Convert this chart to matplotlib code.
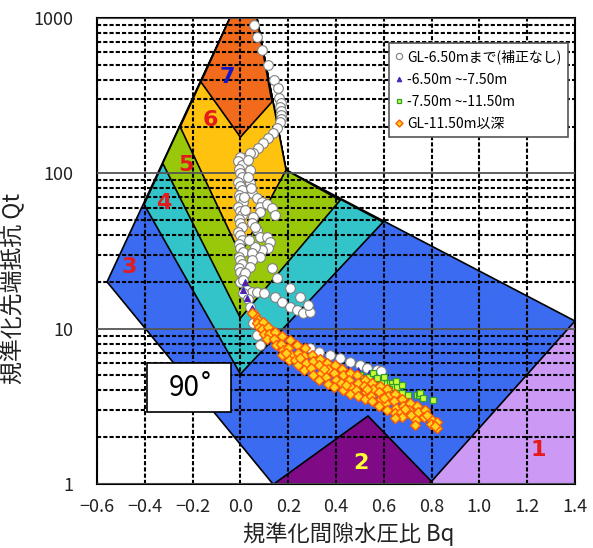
import matplotlib
matplotlib.use("Agg")
import matplotlib.pyplot as plt
from matplotlib.patches import Polygon, Rectangle
from matplotlib.ticker import NullFormatter

plt.rcParams["font.family"] = ["Noto Sans CJK JP", "DejaVu Sans"]

# --- soil behaviour type zones (Bq, Qt), painted from the outside in ---
zone3 = [(-0.558, 20), (-0.0435, 1000), (0.069, 1000), (0.191, 105), (1.4, 11.2), (1.4, 1), (0.136, 1)]
zone4 = [(-0.403, 63), (-0.0435, 1000), (0.069, 1000), (0.191, 105), (0.597, 48.5), (0.0, 5.1)]
zone5 = [(-0.325, 116), (-0.0435, 1000), (0.069, 1000), (0.191, 105), (0.417, 67), (0.0, 11.7)]
zone6 = [(-0.252, 199), (-0.0435, 1000), (0.069, 1000), (0.191, 105), (0.0, 30)]
zone7 = [(-0.165, 387), (-0.0435, 1000), (0.069, 1000), (0.132, 288), (0.0, 171)]
zone2 = [(0.14, 1), (0.534, 2.74), (0.81, 1)]
zone1 = [(0.79, 1), (1.4, 11.2), (1.4, 1)]
zone_colors = {"3": "#3A6BF0", "4": "#33C4C9", "5": "#99C80A", "6": "#FFC20E",
               "7": "#F26A1B", "2": "#7F0A86", "1": "#CC99F5"}

zone_names = ["1", "2", "3", "4", "5", "6", "7"]
zone_label_bq = [1.245, 0.505, -0.466, -0.32, -0.228, -0.127, -0.055]
zone_label_qt = [1.65, 1.36, 25, 64, 113, 220, 417]
zone_label_colors = ["#E41A1C", "#FFFF33", "#E41A1C", "#E41A1C", "#E41A1C", "#E41A1C", "#1515C8"]

# --- measured points ---
white_bq = [0.057, 0.069, 0.09, 0.115, 0.141, 0.157, 0.162, 0.168, 0.166, 0.17, 0.17, 0.168, 0.166,
            0.153, 0.136, 0.115, 0.095, 0.074, 0.053, 0.028,
            0.0, -0.01, 0.005, -0.005, 0.0, 0.008, -0.008, 0.0, 0.005, -0.005, 0.0, 0.01, -0.01,
            0.0, 0.005, -0.005, 0.0, 0.008, -0.008, 0.0, 0.005, -0.005, 0.0, 0.01, -0.005,
            0.0, 0.005, -0.005, 0.0, 0.01, 0.0,
            0.04, 0.032, 0.04, 0.04, 0.048, 0.069, 0.09, 0.082, 0.11, 0.132, 0.145, 0.082, 0.053,
            0.048, 0.069, 0.082, 0.11, 0.124, 0.115, 0.09, 0.06, 0.048, 0.082, 0.048, 0.04, 0.02,
            0.01, 0.027, 0.048, 0.07, 0.1,
            0.132, 0.153, 0.208, 0.25, 0.145, 0.174, 0.208, 0.237, 0.262, 0.29, 0.283,
            0.011, 0.03, 0.04, 0.053, 0.053, 0.069, 0.082,
            0.29, 0.33, 0.375, 0.417, 0.46, 0.50, 0.53, 0.57, 0.59,
            0.03, 0.045, 0.06, 0.035, 0.02, 0.015]
white_qt = [902, 755, 622, 498, 399, 354, 305, 285, 267, 250, 237, 225, 214,
            196, 182, 169, 157, 146, 135, 127,
            127, 120, 113, 106, 100, 94, 88, 83, 78, 73, 69, 65, 61,
            57, 54, 51, 48, 45, 42, 40, 37, 35, 33, 31, 29,
            27.5, 26, 24.5, 23, 21.5, 20,
            135, 122, 105, 87, 75, 69, 65, 61, 63, 60, 54, 56, 52,
            48, 43, 39, 39, 36, 33, 32, 33.5, 30.7, 28.9, 27.7, 25, 22.8,
            20.6, 17.7, 17.2, 17.2, 17,
            24.5, 21.2, 18.2, 16, 16, 14.8, 13.8, 13.2, 12.6, 12.8, 14.2,
            17, 15.5, 13.8, 12.6, 10.9, 9.1, 7.8,
            7.5, 7.1, 6.8, 6.5, 6.1, 5.8, 5.6, 5.4, 5.3,
            95, 80, 45, 37, 58, 70]

tri_bq = [0.02, 0.011, 0.028, 0.048, 0.069, 0.095, 0.24, 0.33, 0.396, 0.45, 0.49, 0.54]
tri_qt = [20, 17.7, 15.7, 13.6, 11.4, 10.2, 7.6, 6.3, 5.8, 5.5, 5.4, 5.2]

green_bq = [0.50, 0.54, 0.555, 0.584, 0.59, 0.613, 0.626, 0.634, 0.638, 0.655, 0.676, 0.66,
            0.676, 0.70, 0.74, 0.748, 0.751, 0.764, 0.806, 0.60, 0.57, 0.65, 0.62]
green_qt = [5.0, 4.87, 5.2, 4.67, 4.53, 4.47, 4.47, 4.47, 4.2, 4.2, 4.34, 3.85,
            3.85, 3.73, 3.73, 3.73, 3.85, 3.57, 3.47, 4.9, 4.8, 4.6, 4.1]

orange_bq = [0.06, 0.05, 0.074, 0.07, 0.078, 0.095, 0.09, 0.1, 0.115, 0.12, 0.11,
             0.145, 0.14, 0.15, 0.174, 0.17, 0.18, 0.172, 0.208, 0.2, 0.212, 0.205,
             0.237, 0.24, 0.23, 0.242, 0.27, 0.265, 0.275, 0.268, 0.30, 0.305, 0.296, 0.302,
             0.333, 0.328, 0.338, 0.33, 0.362, 0.366, 0.357, 0.365, 0.396, 0.39, 0.4, 0.393,
             0.425, 0.43, 0.42, 0.428, 0.459, 0.455, 0.463, 0.457, 0.488, 0.492, 0.484, 0.49,
             0.521, 0.517, 0.525, 0.52, 0.55, 0.555, 0.546, 0.552, 0.584, 0.58, 0.588, 0.582,
             0.613, 0.617, 0.61, 0.615, 0.647, 0.643, 0.65, 0.645, 0.676, 0.68, 0.672, 0.678,
             0.71, 0.706, 0.713, 0.739, 0.742, 0.735, 0.772, 0.768, 0.80, 0.797, 0.823,
             0.73, 0.78, 0.647, 0.823, 0.815,
             0.19, 0.25, 0.35, 0.44, 0.53, 0.6, 0.69]
orange_qt = [12.3, 12.6, 11.4, 10.8, 10.2, 11.0, 10.0, 9.3, 10.2, 9.3, 8.6,
             9.5, 8.6, 7.9, 9.0, 8.0, 7.3, 6.8, 8.4, 7.5, 6.8, 6.3,
             7.9, 7.0, 6.3, 5.8, 7.5, 6.7, 6.0, 5.4, 6.8, 6.2, 5.6, 5.0,
             6.4, 5.8, 5.2, 4.7, 6.0, 5.5, 4.9, 4.4, 5.8, 5.2, 4.7, 4.2,
             5.5, 5.0, 4.5, 4.0, 5.2, 4.7, 4.2, 3.8, 5.0, 4.5, 4.0, 3.7,
             4.7, 4.3, 3.9, 3.5, 4.5, 4.1, 3.7, 3.4, 4.3, 3.9, 3.5, 3.2,
             4.1, 3.7, 3.3, 3.0, 3.8, 3.4, 3.1, 2.85, 3.5, 3.2, 2.9, 2.7,
             3.3, 3.0, 2.8, 3.2, 2.9, 2.6, 3.0, 2.7, 2.6, 2.45, 2.3,
             2.39, 2.78, 2.65, 2.5, 2.35,
             7.0, 6.5, 5.5, 4.35, 4.1, 3.6, 3.05]

series_labels = ["GL-6.50mまで(補正なし)", "-6.50m ~-7.50m", "-7.50m ~-11.50m", "GL-11.50m以深"]

x_ticks = [-0.6, -0.4, -0.2, 0.0, 0.2, 0.4, 0.6, 0.8, 1.0, 1.2, 1.4]
x_tick_labels = ["\u22120.6", "\u22120.4", "\u22120.2", "0.0", "0.2", "0.4", "0.6", "0.8", "1.0", "1.2", "1.4"]
y_ticks = [1, 10, 100, 1000]
y_tick_labels = ["1", "10", "100", "1000"]
y_minor = [m * d for d in (1, 10, 100) for m in range(2, 10)]

fig = plt.figure(figsize=(5.93, 5.48), dpi=100)
ax = fig.add_axes([0.1636, 0.1168, 0.806, 0.8504])
ax.set_yscale("log")
ax.set_xlim(-0.6, 1.4)
ax.set_ylim(1, 1000)

for key, verts in [("3", zone3), ("4", zone4), ("5", zone5), ("6", zone6),
                   ("7", zone7), ("2", zone2), ("1", zone1)]:
    ax.add_patch(Polygon(verts, closed=True, facecolor=zone_colors[key],
                         edgecolor="black", lw=1.2, zorder=1))

# grid drawn over the coloured zones
ax.set_axisbelow(False)
ax.set_xticks(x_ticks)
ax.set_xticklabels(x_tick_labels)
ax.set_yticks(y_ticks)
ax.set_yticklabels(y_tick_labels)
ax.set_yticks(y_minor, minor=True)
ax.yaxis.set_minor_formatter(NullFormatter())
ax.tick_params(which="both", length=0, labelsize=13, labelcolor="#222222")
ax.tick_params(axis="y", pad=17)
ax.tick_params(axis="x", pad=10)
ax.grid(True, axis="x", which="major", color="black", ls=(0, (2.0, 1.0)), lw=1.5)
ax.grid(True, axis="y", which="minor", color="black", ls=(0, (2.0, 1.0)), lw=1.5)
ax.grid(True, axis="y", which="major", color="#555555", ls="-", lw=1.3)
for s in ax.spines.values():
    s.set_linewidth(1.5)

for name, bq, qt, col in zip(zone_names, zone_label_bq, zone_label_qt, zone_label_colors):
    ax.text(bq, qt, name, color=col, fontsize=16, fontweight="bold",
            ha="center", va="center", family="DejaVu Sans", zorder=4)

ax.plot(white_bq, white_qt, ls="none", marker="o", ms=7, mfc="white", mec="#7F7F7F",
        mew=0.8, zorder=5, label=series_labels[0])
ax.plot(tri_bq, tri_qt, ls="none", marker="^", ms=5, mfc="#80107F", mec="#2F2FD0",
        mew=0.8, zorder=6, label=series_labels[1])
ax.plot(green_bq, green_qt, ls="none", marker="s", ms=5, mfc="#CCFF33", mec="#2E9E2E",
        mew=0.9, zorder=6, label=series_labels[2])
ax.plot(orange_bq, orange_qt, ls="none", marker="D", ms=5.5, mfc="#FFD21F", mec="#FF5A00",
        mew=1.0, zorder=7, label=series_labels[3])

# 90 degree box
ax.add_patch(Rectangle((0.105, 0.155), 0.175, 0.105, transform=ax.transAxes,
                       facecolor="white", edgecolor="black", lw=1.2, zorder=8))
ax.text(0.198, 0.206, "90\u02da", transform=ax.transAxes, fontsize=20,
        ha="center", va="center", zorder=9)

leg = ax.legend(loc="upper right", bbox_to_anchor=(0.985, 0.946), fontsize=10,
                frameon=True, fancybox=False, framealpha=1, edgecolor="#555555",
                markerscale=0.65, handlelength=0.6, handletextpad=0.3,
                labelspacing=0.6, borderpad=0.45, borderaxespad=0)
leg.set_zorder(10)
leg.get_frame().set_linewidth(1.2)

ax.set_xlabel("規準化間隙水圧比 Bq", fontsize=16, color="#222222")
ax.xaxis.set_label_coords(0.527, -0.082)
ax.set_ylabel("規準化先端抵抗 Qt", fontsize=16.5, color="#222222")
ax.yaxis.set_label_coords(-0.15, 0.42)

fig.savefig("out.png", dpi=100)
